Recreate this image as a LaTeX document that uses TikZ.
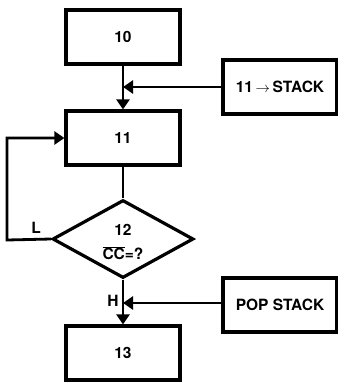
\documentclass[tikz,border=0pt]{standalone}
\usepackage{fontspec}
\setsansfont{TeX Gyre Heros}
\usetikzlibrary{arrows.meta,shapes.geometric}
\begin{document}
\begin{tikzpicture}[x=1pt,y=-1pt,
  every node/.style={font=\sffamily\bfseries\fontsize{15.5}{18}\selectfont},
  blk/.style={draw,line width=3.2pt,minimum width=114pt,minimum height=54pt,inner sep=0pt},
  dec/.style={draw,diamond,line width=3.2pt,minimum width=141pt,minimum height=78pt,inner sep=0pt,align=center},
  conn/.style={line width=2.8pt},
  arr/.style={conn,-{Triangle[length=10pt,width=13pt]}},
  lbl/.style={inner sep=0pt}]
\useasboundingbox (0,0) rectangle (338,384);
\node[blk] (b10) at (123,37) {10};
\node[blk] (b11) at (123,138) {11};
\node[dec] (b12) at (123,239) {};
\node[lbl] at (123,230) {12};
\node[lbl] at (123,253) {$\overline{\mbox{CC}}$=?};
\node[blk] (b13) at (123,353) {13};
\node[blk] (s1) at (280,87) {11\,$\rightarrow$\,STACK};
\node[blk] (s2) at (280,305) {POP STACK};
\coordinate (j1) at (123,87);
\coordinate (j2) at (123,303);
\coordinate (lp) at (7,240);
\draw[arr] (b10.south) -- (b11.north);
\draw[arr] (s1.west) -- (j1);
\draw[conn] (b11.south) -- (b12.north);
\draw[arr] (b12.west) -- (lp) |- (b11.west);
\draw[arr] (b12.south) -- (b13.north);
\draw[arr] (s2.west |- j2) -- (j2);
\node[lbl] at (36,228) {L};
\node[lbl] at (113,301) {H};
\end{tikzpicture}
\end{document}
